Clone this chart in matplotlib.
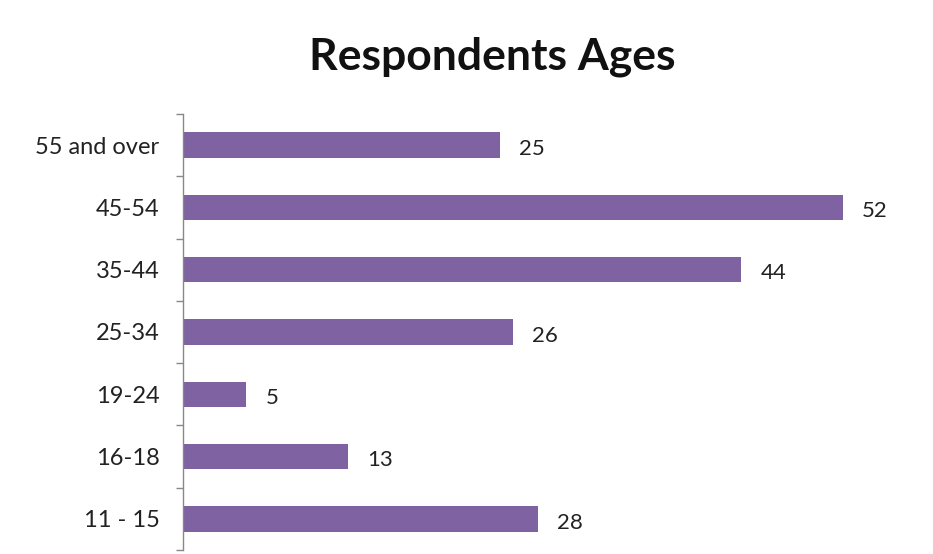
import matplotlib
matplotlib.use("Agg")
import matplotlib.pyplot as plt
from matplotlib.ticker import FixedLocator

categories = ["11 - 15", "16-18", "19-24", "25-34", "35-44", "45-54", "55 and over"]
values = [28, 13, 5, 26, 44, 52, 25]

plt.rcParams['font.family'] = ['Lato', 'DejaVu Sans']

fig = plt.figure(figsize=(9.33, 5.54), dpi=100)
px_per_unit = (843 - 183) / 52
ax_left, ax_right = 183, 930
ax = fig.add_axes([ax_left / 933, (554 - 550) / 554, (ax_right - ax_left) / 933, 436 / 554])

color = "#7E62A1"
y = list(range(len(categories)))
ax.barh(y, values, height=0.41, color=color)
ax.set_xlim(0, (ax_right - ax_left) / px_per_unit)
ax.set_ylim(-0.5, len(categories) - 0.5)

for yi, v in zip(y, values):
    ax.text(v + 19 / px_per_unit, yi - 0.06, str(v), va="center", ha="left",
            fontsize=16, color="#222222")

ax.set_yticks(y)
ax.set_yticklabels(categories, fontsize=17, color="#222222")
ax.yaxis.set_minor_locator(FixedLocator([i - 0.5 for i in range(len(categories) + 1)]))
ax.tick_params(axis="y", which="major", length=0, pad=17)
ax.tick_params(axis="y", which="minor", length=5, width=1, color="#888888", direction="out")
ax.set_xticks([])
for s in ["top", "right", "bottom"]:
    ax.spines[s].set_visible(False)
ax.spines["left"].set_color("#888888")
ax.spines["left"].set_linewidth(1)

fig.text(492 / 933, 1 - 57 / 554, "Respondents Ages", ha="center", va="center",
         fontsize=32, fontweight="bold", color="#111111")

fig.savefig("out.png", dpi=100)
